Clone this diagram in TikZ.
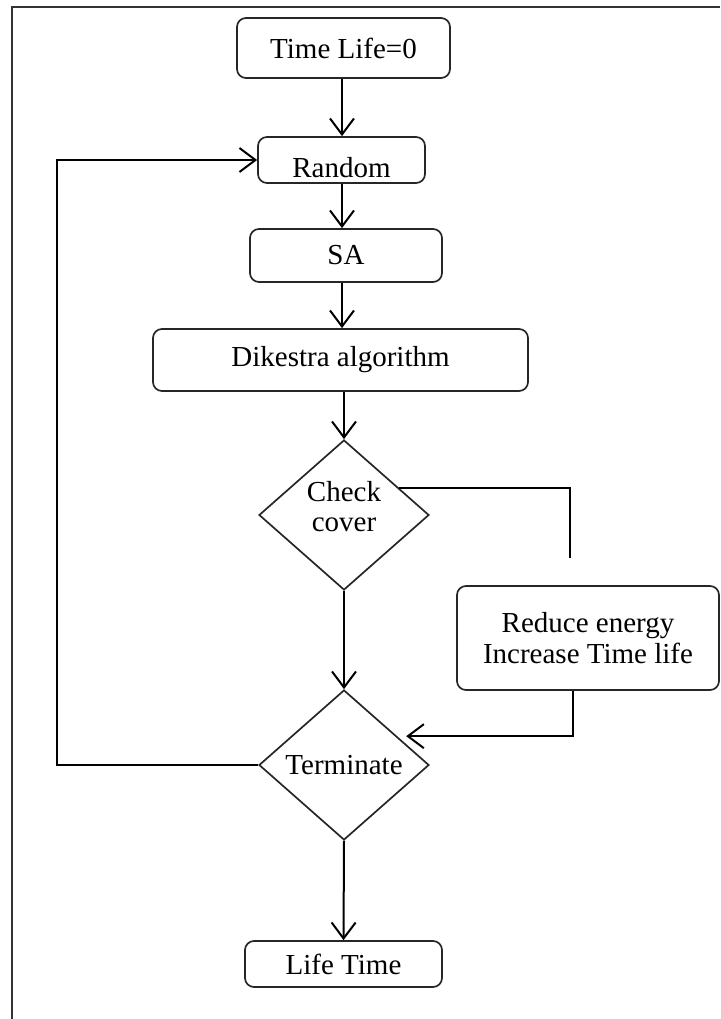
\documentclass[tikz,border=0pt]{standalone}
\usepackage{fontspec}
\setmainfont{Liberation Serif}
\usetikzlibrary{shapes.geometric,arrows.meta,calc}
\begin{document}
\begin{tikzpicture}[x=1pt,y=-1pt,
  txt/.style={font=\fontsize{29}{31}\selectfont,align=center},
  box/.style={txt,draw=black!85,line width=1.7pt,rounded corners=9pt,inner sep=0pt},
  dia/.style={txt,draw=black!85,line width=1.7pt,diamond,inner sep=0pt,aspect=1.13,minimum width=170pt,minimum height=150pt},
  arr/.style={line width=2pt,-{Straight Barb[length=16pt,width=24pt,line width=2pt]}},
  ln/.style={line width=1.8pt}]
\useasboundingbox (0,0) rectangle (720,1019);
% outer frame (cut off at right and bottom)
\draw[line width=2.2pt,black!80] (12,1019) -- (12,7) -- (720,7);

\node[box,minimum width=213pt,minimum height=60pt] (t0) at (343.5,48) {Time Life=0};
\node[box,minimum width=167pt,minimum height=46pt] (rnd) at (341.5,160) {\raisebox{-18pt}[0pt][0pt]{Random}};
\node[box,minimum width=192pt,minimum height=53pt] (sa) at (346,255.5) {SA};
\node[box,minimum width=375pt,minimum height=62pt] (dk) at (340.5,360) {Dikestra algorithm};
\node[dia] (cc) at (344,515) {\raisebox{5pt}[\height][\depth]{\begin{tabular}{@{}c@{}}Check\\[-1pt]cover\end{tabular}}};
\node[box,minimum width=262pt,minimum height=104pt] (red) at (588,638) {Reduce energy\\Increase Time life};
\node[dia] (term) at (344,765) {Terminate};
\node[box,minimum width=197pt,minimum height=46pt] (lt) at (343.5,964) {Life Time};

\coordinate (cend) at (570,558);
\coordinate (rx) at (573,0);
\coordinate (lx) at (57,0);
\coordinate (ax) at (342,0);

\draw[arr] (t0.south -| ax) -- (rnd.north -| ax);
\draw[arr] (rnd.south -| ax) -- (sa.north -| ax);
\draw[arr] (sa.south -| ax) -- (dk.north -| ax);
\draw[arr] (dk.south -| cc.north) -- (cc.north);
\draw[arr] (cc.south) -- (term.north);
\draw[arr] (term.south) -- (lt.north);
\draw[ln] ($(cc.north)!0.64!(cc.east)$) -| (cend);
\draw[arr,shorten >=9pt] (red.south -| rx) |- ($(term.north)!0.62!(term.east)$);
\draw[arr] (term.west) -| (lx |- rnd.west) -- (rnd.west);
\end{tikzpicture}
\end{document}
